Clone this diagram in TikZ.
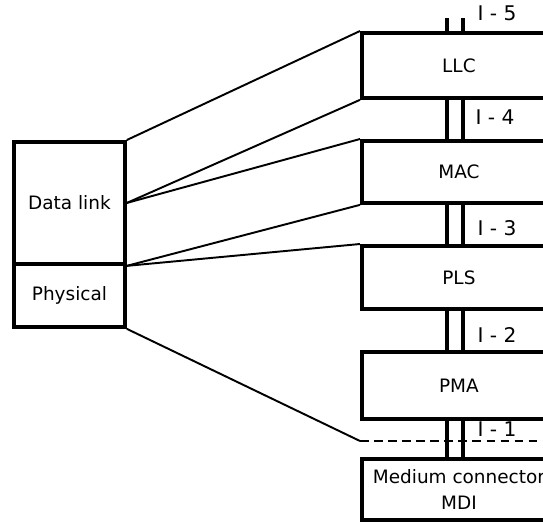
\documentclass[tikz,border=0pt]{standalone}
\usepackage{fontspec}
\setmainfont{DejaVu Sans}
\usetikzlibrary{positioning, calc}
\tikzset{
    layer/.style={draw, line width=2.2pt, anchor=north west, minimum width=3.88cm,
        font=\fontsize{10.5}{15}\selectfont, align=center, inner sep=0pt},
    osi/.style={draw, line width=2.2pt, anchor=north west, minimum width=2.22cm,
        font=\fontsize{10.5}{15}\selectfont, inner sep=0pt},
    link/.style={line width=1.1pt},
    pipe/.style={line width=1.9pt},
    iface/.style={font=\fontsize{11.5}{12}\selectfont, inner sep=0pt}
}
\begin{document}
\begin{tikzpicture}[x=0.02cm, y=-0.02cm]
    \useasboundingbox (0,0) rectangle (543,521);
    \clip (0,0) rectangle (543,521);
    % OSI side
    \node[osi, minimum height=2.44cm] (dl) at (12,140) {Data link};
    \node[osi, minimum height=1.26cm] (ph) at (12,262) {Physical};
    % IEEE 802 side
    \node[layer, minimum height=1.30cm] (llc) at (360,31) {LLC};
    \node[layer, minimum height=1.24cm] (mac) at (360,139) {MAC};
    \node[layer, minimum height=1.26cm] (pls) at (360,244) {PLS};
    \node[layer, minimum height=1.34cm] (pma) at (360,350) {PMA};
    \node[layer, minimum height=1.22cm] (mdi) at (360,457) {Medium connector\\MDI};
    \coordinate (pa) at (447,0);
    \coordinate (pb) at (463,0);
    \coordinate (top) at (0,18);
    \coordinate (cut) at (360,441);
    \coordinate (cutend) at (545,441);
    % interfaces
    \foreach \p in {pa,pb}{
    \draw[pipe] (top -| \p) -- (llc.north -| \p);
    \draw[pipe] (llc.south -| \p) -- (mac.north -| \p);
    \draw[pipe] (mac.south -| \p) -- (pls.north -| \p);
    \draw[pipe] (pls.south -| \p) -- (pma.north -| \p);
    \draw[pipe] (pma.south -| \p) -- (mdi.north -| \p);}
    \node[iface] (i5) at (497,13) {I - 5};
    \node[iface] (i4) at (495,117) {I - 4};
    \node[iface] (i3) at (497,228) {I - 3};
    \node[iface] (i2) at (497,335) {I - 2};
    \node[iface] (i1) at (497,429) {I - 1};
    % mapping
    \draw[link] (dl.north east) -- (llc.north west);
    \draw[link] (dl.east) -- (llc.south west);
    \draw[link] (dl.east) -- (mac.north west);
    \draw[link] (dl.south east) -- (mac.south west);
    \draw[link] (dl.south east) -- (pls.north west);
    \draw[link] (ph.south east) -- (cut);
    \draw[link, dashed, dash pattern=on 5pt off 3pt] (cut) -- (cutend);
\end{tikzpicture}
\end{document}
